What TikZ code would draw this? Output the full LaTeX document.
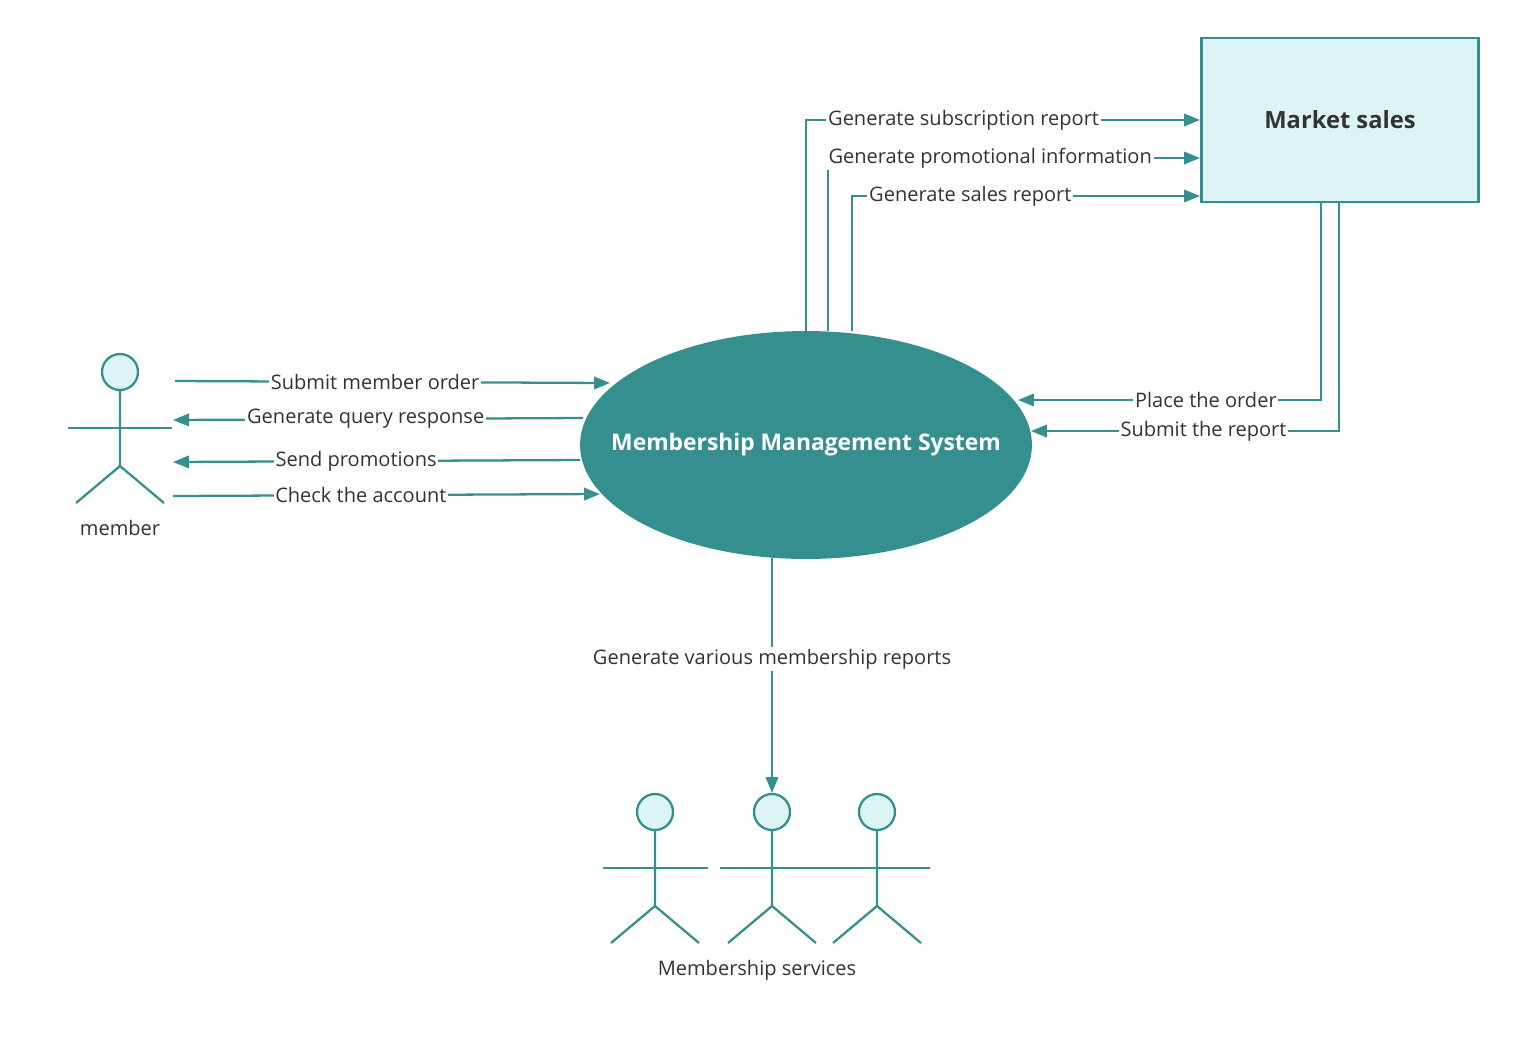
\documentclass[tikz,border=0pt]{standalone}
\usepackage{fontspec}
\setmainfont{Open Sans}
\usetikzlibrary{shapes.geometric,arrows.meta}
\definecolor{teal}{HTML}{368F8F}
\definecolor{lightteal}{HTML}{DCF4F3}
\definecolor{ink}{HTML}{333333}
\tikzset{
  flow/.style={teal, line width=1.3pt, -{Triangle[length=9pt,width=7pt]}},
  lbl/.style={fill=white, inner sep=1pt, text=ink, font=\fontsize{11.4}{13}\selectfont},
}
\newcommand{\actor}[2]{%
  \draw [teal, line width=1.3pt, fill=lightteal] (#1,#2) circle (18);
  \draw [teal, line width=1.3pt] (#1,#2+18) -- (#1,#2+94) -- (#1-44,#2+131)
        (#1,#2+94) -- (#1+44,#2+131);}
\begin{document}
\begin{tikzpicture}[x=0.02cm, y=-0.02cm]
    \useasboundingbox (0,0) rectangle (1515,1036);

    \node [ellipse, fill=teal, inner sep=0pt, minimum width=9.04cm, minimum height=4.56cm] (mms) at (806,445) {};
    \node [text=white, font=\bfseries\fontsize{13}{15}\selectfont] (mmstext) at (mms.center) {Membership Management System};
    \node [draw=teal, line width=1.3pt, fill=lightteal, minimum width=5.54cm, minimum height=3.28cm,
           text=ink, font=\bfseries\fontsize{13.5}{16}\selectfont] (ms) at (1340,120) {Market sales};

    % member
    \actor{120}{372}
    \draw [teal, line width=1.3pt] (68,428) -- (172,428);
    \node [lbl] (member) at (120,528) {member};

    % membership services
    \actor{655}{812}
    \actor{772}{812}
    \actor{877}{812}
    \draw [teal, line width=1.3pt] (603,868) -- (708,868) (720,868) -- (930,868);
    \node [lbl] (services) at (757,970) {Membership services};
    \coordinate (svc) at (772,793);

    % member flows
    \coordinate (m1) at (175,381); \coordinate (e1) at (610,383);
    \coordinate (m2) at (173,420); \coordinate (e2) at (583,418);
    \coordinate (m3) at (173,462); \coordinate (e3) at (580,460);
    \coordinate (m4) at (173,496); \coordinate (e4) at (600,494);
    \draw [flow] (m1) -- node[lbl, pos=0.46] {Submit member order} (e1);
    \draw [flow] (e2) -- node[lbl, pos=0.53] {Generate query response} (m2);
    \draw [flow] (e3) -- node[lbl, pos=0.55] {Send promotions} (m3);
    \draw [flow] (m4) -- node[lbl, pos=0.44] {Check the account} (e4);

    % market sales flows
    \coordinate (t1) at (806,331); \coordinate (s1) at (1200,120);
    \coordinate (t2) at (828,331); \coordinate (s2) at (1200,158);
    \coordinate (t3) at (852,331); \coordinate (s3) at (1200,196);
    \draw [flow] (t1) |- node[lbl, pos=0.70] {Generate subscription report} (s1);
    \draw [flow] (t2) |- node[lbl, pos=0.718] {Generate promotional information} (s2);
    \draw [flow] (t3) |- node[lbl, pos=0.67] {Generate sales report} (s3);

    \coordinate (b1) at (1321,202); \coordinate (r1) at (1018,400);
    \coordinate (b2) at (1339,202); \coordinate (r2) at (1031,431);
    \draw [flow] (b1) |- node[lbl, pos=0.69] {Place the order} (r1);
    \draw [flow] (b2) |- node[lbl, pos=0.72] {Submit the report} (r2);

    \coordinate (bot) at (772,558);
    \draw [flow] (bot) -- node[lbl, pos=0.43] {Generate various membership reports} (svc);
\end{tikzpicture}
\end{document}
